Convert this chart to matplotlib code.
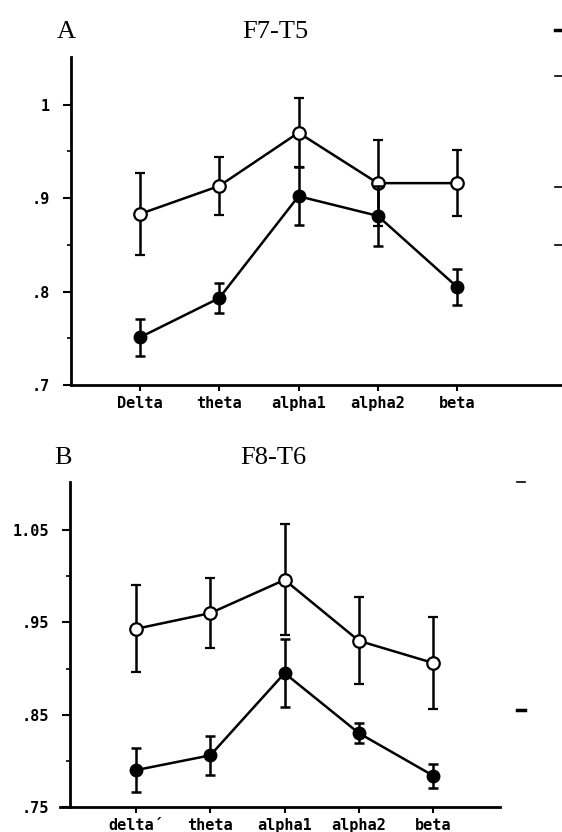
import matplotlib
matplotlib.use("Agg")
import matplotlib.pyplot as plt
from matplotlib.lines import Line2D

bands_a = ["Delta", "theta", "alpha1", "alpha2", "beta"]
bands_b = ["delta\u00b4", "theta", "alpha1", "alpha2", "beta"]
x = [1, 2, 3, 4, 5]

# panel A  F7-T5
open_a = [0.883, 0.913, 0.970, 0.916, 0.916]
open_a_err = [0.044, 0.031, 0.037, 0.046, 0.035]
fill_a = [0.751, 0.793, 0.902, 0.881, 0.805]
fill_a_err = [0.020, 0.016, 0.031, 0.032, 0.019]

# panel B  F8-T6
open_b = [0.943, 0.960, 0.996, 0.930, 0.906]
open_b_err = [0.047, 0.038, 0.060, 0.047, 0.050]
fill_b = [0.790, 0.806, 0.895, 0.830, 0.784]
fill_b_err = [0.024, 0.021, 0.037, 0.011, 0.013]

yt_a = [0.7, 0.8, 0.9, 1.0]
yt_a_lab = [".7", ".8", ".9", "1"]
yt_b = [0.75, 0.85, 0.95, 1.05]
yt_b_lab = [".75", ".85", ".95", "1.05"]

mono = {"family": "DejaVu Sans Mono", "weight": "bold", "size": 11}
serif = {"family": "Liberation Serif", "size": 19}

fig = plt.figure(figsize=(5.62, 8.32), dpi=100)


def panel(ax, labels, o, oe, f, fe, yt, ytl, ylim, xlim):
	ax.errorbar(x, o, yerr=oe, color="black", lw=1.8, elinewidth=1.8, capsize=3.5,
		capthick=1.8, marker="o", ms=9, mfc="white", mec="black", mew=1.6, zorder=3)
	ax.errorbar(x, f, yerr=fe, color="black", lw=1.8, elinewidth=1.8, capsize=3.5,
		capthick=1.8, marker="o", ms=9, mfc="black", mec="black", zorder=4)
	ax.set_xlim(xlim)
	ax.set_ylim(ylim)
	ax.set_xticks(x)
	ax.set_xticklabels(labels, fontdict=mono)
	ax.set_yticks(yt)
	ax.set_yticklabels(ytl, fontdict=mono)
	ax.set_yticks([v + 0.05 for v in yt[:-1]], minor=True)
	ax.tick_params(axis="y", which="major", length=6, width=1.5, pad=9)
	ax.tick_params(axis="y", which="minor", length=3, width=1.2)
	ax.tick_params(axis="x", length=4, width=1.5, pad=4)
	for s in ["top", "right"]:
		ax.spines[s].set_visible(False)
	for s in ["left", "bottom"]:
		ax.spines[s].set_linewidth(2)


ax1 = fig.add_axes([0.1263, 0.5373, 0.8737, 0.3942])
panel(ax1, bands_a, open_a, open_a_err, fill_a, fill_a_err, yt_a, yt_a_lab,
	(0.7, 1.051), (0.129, 6.325))
fig.text(0.117, 0.9615, "A", ha="center", va="center", **serif)
fig.text(0.489, 0.9615, "F7-T5", ha="center", va="center", **serif)

ax2 = fig.add_axes([0.1246, 0.030, 0.7651, 0.3907])
panel(ax2, bands_b, open_b, open_b_err, fill_b, fill_b_err, yt_b, yt_b_lab,
	(0.75, 1.102), (0.111, 5.90))
ax2.spines["bottom"].set_bounds(-0.03, 5.90)
fig.text(0.112, 0.4495, "B", ha="center", va="center", **serif)
fig.text(0.486, 0.4495, "F8-T6", ha="center", va="center", **serif)

# stray marks of the neighbouring panel at the right edge
for (x0, x1, y0, lw) in [(0.988, 1.0, 0.964, 2.5), (0.988, 1.0, 0.909, 1.2),
		(0.988, 1.0, 0.775, 1.2), (0.988, 1.0, 0.706, 1.2),
		(0.920, 0.935, 0.421, 1.2), (0.920, 0.935, 0.147, 2.5)]:
	fig.add_artist(Line2D([x0, x1], [y0, y0], color="black", lw=lw))

fig.savefig("out.png", dpi=100)
